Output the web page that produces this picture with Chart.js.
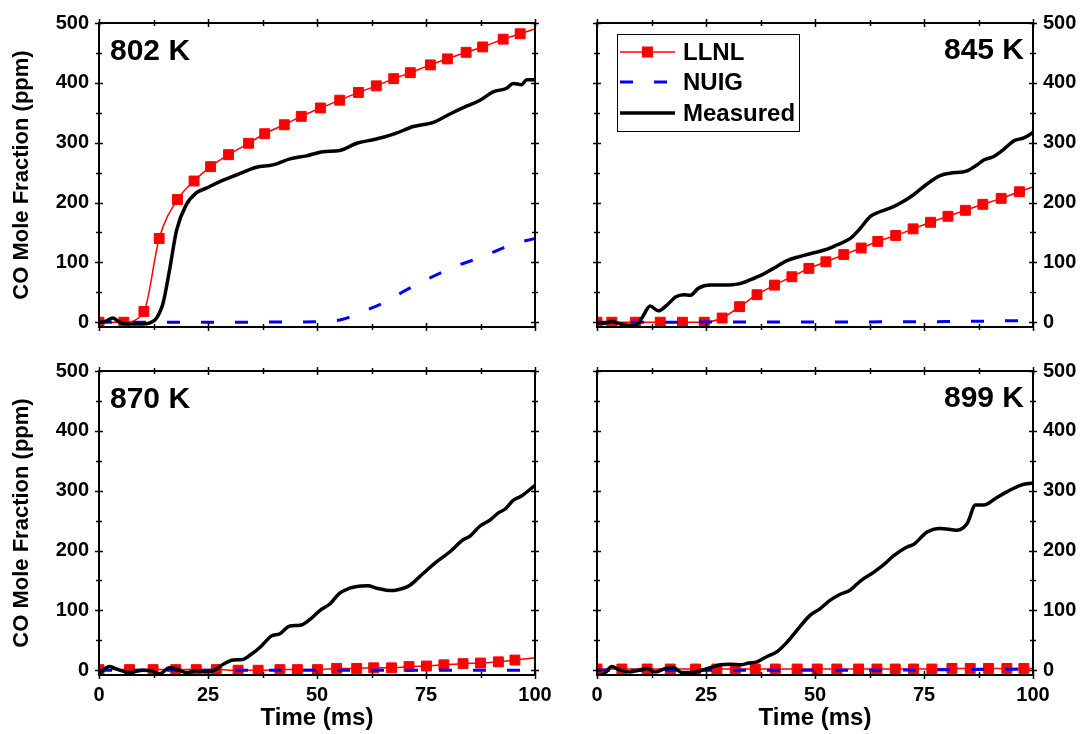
<!DOCTYPE html>
<html>
<head>
<meta charset="utf-8">
<script src="https://cdn.jsdelivr.net/npm/chart.js@4.4.0/dist/chart.umd.min.js"></script>
<style>
  body { margin: 0; background: #fff; }
  #wrap { position: relative; width: 1081px; height: 734px; }
  #wrap canvas { position: absolute; left: 0; top: 0; }
</style>
</head>
<body>
<div id="wrap">
  <canvas id="c802" width="1081" height="734"></canvas>
  <canvas id="c845" width="1081" height="734"></canvas>
  <canvas id="c870" width="1081" height="734"></canvas>
  <canvas id="c899" width="1081" height="734"></canvas>
</div>
<script>
// ---- data (time in ms, CO in ppm) ----
const llnlT802 = [0, 5.7, 10.3, 13.8, 18, 21.8, 25.6, 29.7, 34.3, 38, 42.5, 46.4, 50.8, 55.2, 59.5, 63.6, 67.6, 71.4, 76, 79.9, 84.2, 88, 92.7, 96.6, 100];
const llnlV802 = [0, 0, 18, 140, 205, 236, 260, 280, 299, 315, 330, 344, 358, 371, 384, 395, 407, 417, 430, 440, 451, 460, 473, 482, 490];
const nuigT802 = [0, 25, 51.4, 55.9, 60.6, 65.2, 70.5, 75.9, 81.3, 85.8, 89.7, 94.3, 100];
const nuigV802 = [0, 0, 1, 5, 18, 32, 54, 74, 92, 104, 115, 129, 140];
const measT802 = [0, 1.3, 3.2, 4.7, 6.3, 8.6, 11.2, 13.2, 14.7, 16.2, 17.8, 20, 22.3, 24.6, 27.7, 31.5, 36.1, 39.9, 43.8, 47.6, 51.4, 55.2, 59.1, 62.9, 65.2, 68.2, 72.1, 76.7, 80.5, 84.3, 87.4, 90.4, 93.5, 95, 96.9, 98.1, 100];
const measV802 = [0, 1, 7, 0, -3, -3, -2, 7, 32, 88, 154, 196, 216, 224, 235, 246, 259, 263, 273, 278, 285, 287, 299, 305, 309, 316, 327, 334, 348, 361, 371, 385, 391, 399, 397, 405, 405];

const llnlT845 = [0, 3.4, 8.8, 14.5, 19.6, 24.6, 28.7, 32.7, 36.7, 40.7, 44.7, 48.6, 52.5, 56.6, 60.6, 64.4, 68.5, 72.5, 76.5, 80.5, 84.5, 88.5, 92.7, 96.9, 100];
const llnlV845 = [0, 0, 0, 0, 0, 0, 7, 26, 46, 62, 76, 90, 101, 113, 124, 135, 145, 156, 167, 177, 187, 197, 207, 218, 226];
const nuigT845 = [0, 60, 80, 100];
const nuigV845 = [0, 0.5, 1, 3];
const measT845 = [0, 1.5, 3.4, 5.4, 8.8, 10.3, 12.2, 14.1, 16.1, 18, 19.9, 21.4, 23.3, 26, 29.1, 32.5, 35.2, 37.8, 40.5, 43.6, 46.6, 49.7, 52.8, 55, 58.1, 60.4, 62.7, 65, 68, 70.3, 72.6, 75.7, 78.7, 81, 84.9, 87.2, 88.7, 91, 93.3, 95.6, 97.9, 100];
const measV845 = [0, -2, 1, -3, -6, 7, 27, 19, 29, 42, 46, 45, 57, 62, 62, 64, 71, 79, 90, 103, 110, 116, 122, 129, 140, 157, 177, 185, 193, 202, 213, 231, 245, 249, 253, 263, 271, 277, 289, 303, 308, 317];

const llnlT870 = [0, 7, 12.4, 17.6, 22.3, 26.9, 31.9, 36.5, 41.5, 45.5, 50.1, 54.5, 59.1, 63, 67.1, 71.1, 75.1, 79.1, 83.5, 87.5, 91.6, 95.4, 100];
const llnlV870 = [1, 1, 1, 1, 1, 1, 0, 0, 1, 1, 1, 3, 3, 4, 4, 6, 7, 9, 11, 12, 14, 17, 21];
const nuigT870 = [0, 100];
const nuigV870 = [0, 0];
const measT870 = [0, 2.4, 4.4, 7, 10.1, 12, 13.9, 16.2, 18.1, 20, 22.3, 24.3, 26.2, 28.5, 30.8, 33, 34.6, 36.9, 39.5, 41.5, 43.8, 46.1, 48.4, 50.7, 53, 55.2, 57.5, 59.1, 61.7, 63.7, 67.1, 69.8, 71.3, 74.4, 77.4, 80.5, 83.5, 85.1, 87.4, 89.7, 91.6, 93.1, 95, 96.9, 100];
const measV870 = [-6, 6, 1, -4, 0, -1, -6, 4, 1, -4, -1, -3, -1, 10, 17, 18, 25, 38, 57, 61, 74, 75, 85, 100, 111, 129, 137, 140, 141, 137, 133, 137, 142, 162, 181, 198, 218, 224, 241, 251, 263, 269, 284, 291, 309];

const llnlT899 = [0, 5.7, 11.5, 16.8, 22.6, 27.5, 31.7, 36.3, 40.9, 45.9, 50.5, 55, 60, 64.2, 68.4, 72.6, 76.8, 81.4, 85.6, 89.8, 94, 97.9, 100];
const llnlV899 = [2, 2, 2, 2, 2, 2, 2, 2, 2, 2, 2, 2, 2, 2, 2, 2, 2, 3, 3, 3, 3, 3, 3];
const nuigT899 = [0, 60, 100];
const nuigV899 = [0, 0, 2];
const measT899 = [0, 0.8, 1.9, 3.4, 5, 7.6, 9.6, 11.5, 13.4, 15.7, 17.6, 19.5, 21.8, 24.5, 26.8, 28.3, 30.6, 32.9, 34.8, 36.7, 39, 41.3, 43.6, 45.9, 48.9, 51.2, 53.5, 55.8, 58.1, 60.4, 63.5, 65.7, 68, 71.1, 72.6, 75.7, 78.7, 82.6, 84.9, 86.8, 88.7, 91.4, 94, 97.1, 100];
const measV899 = [-8, -8, -4, 6, 1, -3, 0, 3, -3, 3, 4, -4, -4, 1, 6, 9, 10, 9, 12, 14, 23, 31, 47, 67, 92, 103, 117, 127, 134, 149, 164, 176, 191, 206, 210, 231, 237, 234, 245, 276, 276, 287, 298, 309, 313];

const seriesNames = ['LLNL', 'NUIG', 'Measured'];
const xTicks = [0, 25, 50, 75, 100];
const yTicks = [0, 100, 200, 300, 400, 500];

Chart.defaults.font.family = '"Liberation Sans", Arial, sans-serif';
Chart.defaults.font.weight = 'bold';
Chart.defaults.font.size = 20;
Chart.defaults.color = '#000';

const RED = '#ff0000', BLUE = '#0000ff', BLACK = '#000000';
const DASH = [13, 21];

function pts(t, v) { return t.map((x, i) => ({ x: x, y: v[i] })); }

// frame, crossing ticks and the temperature label
const framePlugin = {
  id: 'frame',
  afterDatasetsDraw(chart, args, opts) {
    const { ctx, chartArea: a, scales } = chart;
    const x = scales.x, y = scales.y;
    ctx.save();
    ctx.strokeStyle = '#000';
    ctx.lineWidth = 2;
    ctx.strokeRect(a.left, a.top, a.width, a.height);
    ctx.lineWidth = 1.5;
    ctx.beginPath();
    for (let v = 0; v <= 100; v += 12.5) {
      const px = Math.round(x.getPixelForValue(v)) + 0.5;
      const len = v % 25 === 0 ? 4 : 3;
      ctx.moveTo(px, a.bottom - len); ctx.lineTo(px, a.bottom + len);
      ctx.moveTo(px, a.top - len); ctx.lineTo(px, a.top + len);
    }
    for (let v = 0; v <= 500; v += 50) {
      const py = Math.round(y.getPixelForValue(v)) + 0.5;
      const len = v % 100 === 0 ? 4 : 3;
      ctx.moveTo(a.left - len, py); ctx.lineTo(a.left + len, py);
      ctx.moveTo(a.right - len, py); ctx.lineTo(a.right + len, py);
    }
    ctx.stroke();

    ctx.fillStyle = '#000';
    ctx.font = 'bold 30px "Liberation Sans", Arial, sans-serif';
    ctx.textBaseline = 'alphabetic';
    if (opts.align === 'left') {
      ctx.textAlign = 'left';
      ctx.fillText(opts.text, a.left + 11, a.top + 37);
    } else {
      ctx.textAlign = 'right';
      ctx.fillText(opts.text, a.right - 9, a.top + 36);
    }

    if (opts.legend) {
      const bx = a.left + 20, by = a.top + 11, bw = 182, bh = 97;
      ctx.lineWidth = 1;
      ctx.strokeRect(bx + 0.5, by + 0.5, bw, bh);
      const rows = [by + 18, by + 48, by + 79];
      const x0 = bx + 3, x1 = bx + 58;
      ctx.font = 'bold 24px "Liberation Sans", Arial, sans-serif';
      ctx.textAlign = 'left';
      ctx.textBaseline = 'middle';
      // LLNL
      ctx.strokeStyle = RED; ctx.lineWidth = 1.5;
      ctx.beginPath(); ctx.moveTo(x0, rows[0]); ctx.lineTo(x1, rows[0]); ctx.stroke();
      ctx.fillStyle = RED;
      ctx.fillRect((x0 + x1) / 2 - 5.5, rows[0] - 5.5, 11, 11);
      // NUIG
      ctx.strokeStyle = BLUE; ctx.lineWidth = 3; ctx.setLineDash(DASH);
      ctx.beginPath(); ctx.moveTo(x0, rows[1]); ctx.lineTo(x1, rows[1]); ctx.stroke();
      ctx.setLineDash([]);
      // Measured
      ctx.strokeStyle = BLACK; ctx.lineWidth = 3.5;
      ctx.beginPath(); ctx.moveTo(x0, rows[2]); ctx.lineTo(x1, rows[2]); ctx.stroke();
      ctx.fillStyle = '#000';
      seriesNames.forEach((n, i) => ctx.fillText(n, bx + 66, rows[i] + 1));
    }
    ctx.restore();
  }
};

const panels = [
  { id: 'c802', text: '802 K', align: 'left', side: 'left', bottom: false, legend: false,
    pad: { left: 0, top: 23, right: 546, bottom: 407 },
    llnl: pts(llnlT802, llnlV802), nuig: pts(nuigT802, nuigV802), meas: pts(measT802, measV802) },
  { id: 'c845', text: '845 K', align: 'right', side: 'right', bottom: false, legend: true,
    pad: { left: 597, top: 23, right: 0, bottom: 407 },
    llnl: pts(llnlT845, llnlV845), nuig: pts(nuigT845, nuigV845), meas: pts(measT845, measV845) },
  { id: 'c870', text: '870 K', align: 'left', side: 'left', bottom: true, legend: false,
    pad: { left: 0, top: 371, right: 546, bottom: 0 },
    llnl: pts(llnlT870, llnlV870), nuig: pts(nuigT870, nuigV870), meas: pts(measT870, measV870) },
  { id: 'c899', text: '899 K', align: 'right', side: 'right', bottom: true, legend: false,
    pad: { left: 597, top: 371, right: 0, bottom: 0 },
    llnl: pts(llnlT899, llnlV899), nuig: pts(nuigT899, nuigV899), meas: pts(measT899, measV899) }
];

panels.forEach(p => {
  const lastLLNL = p.llnl.length - 1;
  new Chart(document.getElementById(p.id), {
    type: 'line',
    data: {
      datasets: [
        { label: 'Measured', data: p.meas, borderColor: BLACK, borderWidth: 3.5,
          pointRadius: 0, cubicInterpolationMode: 'monotone' },
        { label: 'NUIG', data: p.nuig, borderColor: BLUE, borderWidth: 3, borderDash: DASH,
          pointRadius: 0, cubicInterpolationMode: 'monotone' },
        { label: 'LLNL', data: p.llnl, borderColor: RED, borderWidth: 1.5,
          backgroundColor: RED, pointBackgroundColor: RED, pointBorderColor: RED,
          pointStyle: 'rect', pointBorderWidth: 1,
          pointRadius: c => (c.dataIndex === lastLLNL ? 0 : 7),
          cubicInterpolationMode: 'monotone' }
      ]
    },
    options: {
      responsive: false,
      animation: false,
      events: [],
      layout: { padding: p.pad },
      plugins: {
        legend: { display: false },
        tooltip: { enabled: false },
        frame: { text: p.text, align: p.align, legend: p.legend }
      },
      scales: {
        x: {
          type: 'linear', min: 0, max: 100, position: 'bottom',
          afterFit: s => { s.height = p.bottom ? 59 : 0; },
          grid: { display: false, drawTicks: false },
          border: { display: false },
          afterBuildTicks: s => { s.ticks = xTicks.map(v => ({ value: v })); },
          ticks: { display: p.bottom, padding: 8, maxRotation: 0, font: { size: 20, weight: 'bold' } },
          title: { display: p.bottom, text: 'Time (ms)', font: { size: 24, weight: 'bold' },
                   padding: { top: 0, bottom: 1 } }
        },
        y: {
          type: 'linear', min: -8, max: 500, position: p.side,
          afterFit: s => { s.width = p.side === 'left' ? 99 : 48; },
          grid: { display: false, drawTicks: false },
          border: { display: false },
          afterBuildTicks: s => { s.ticks = yTicks.map(v => ({ value: v })); },
          ticks: { padding: 10, font: { size: 20, weight: 'bold' } },
          title: { display: p.side === 'left', text: 'CO Mole Fraction (ppm)',
                   font: { size: 22, weight: 'bold' }, padding: { top: 9, bottom: 0 } }
        }
      }
    },
    plugins: [framePlugin]
  });
});
</script>
</body>
</html>
